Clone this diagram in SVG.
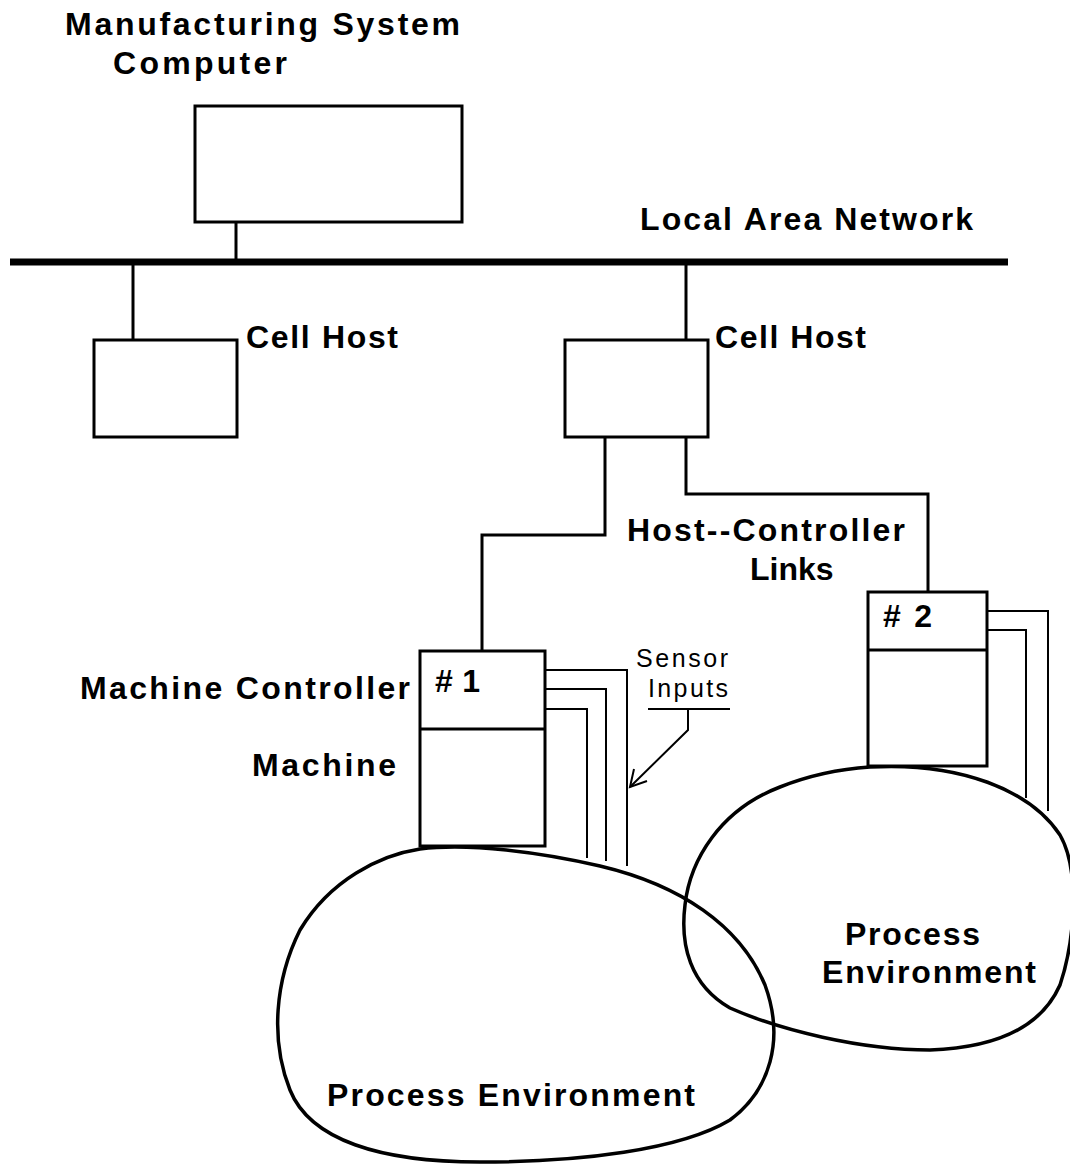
<svg xmlns="http://www.w3.org/2000/svg" width="1070" height="1166" viewBox="0 0 1070 1166">
<style>
.box{fill:#fff;stroke:#000;stroke-width:3}
.ln{fill:none;stroke:#000;stroke-width:3}
.sn{fill:none;stroke:#000;stroke-width:2}
.blob{fill:none;stroke:#000;stroke-width:3.5}
text{font-family:"Liberation Sans",Arial,sans-serif;font-weight:bold;font-size:32px;fill:#000}
.sm{font-weight:normal;font-size:25px}
</style>
<rect width="1070" height="1166" fill="#fff"/>
<g id="connectors">
<line x1="10" y1="262" x2="1008" y2="262" stroke="#000" stroke-width="7"/>
<line class="ln" x1="236" y1="222" x2="236" y2="262"/>
<line class="ln" x1="133" y1="262" x2="133" y2="340"/>
<line class="ln" x1="686" y1="262" x2="686" y2="340"/>
<polyline class="ln" points="605,437 605,535 482,535 482,652"/>
<polyline class="ln" points="686,437 686,494 928,494 928,592"/>
<polyline class="sn" points="545,670 627,670 627,866"/>
<polyline class="sn" points="545,689 606,689 606,861"/>
<polyline class="sn" points="545,709 587,709 587,858"/>
<polyline class="sn" points="987,611 1048,611 1048,811"/>
<polyline class="sn" points="987,630 1026,630 1026,798"/>
<line class="sn" x1="648" y1="709" x2="730" y2="709"/>
<polyline class="sn" points="688,709 688,730 630,787"/>
<polyline class="sn" points="634,769 630,787 647,781"/>
</g>
<g id="msc">
<rect class="box" x="195" y="106" width="267" height="116"/>
<text x="65" y="35" textLength="395">Manufacturing System</text>
<text x="113" y="74" textLength="174">Computer</text>
</g>
<text id="lan" x="640" y="230" textLength="333">Local Area Network</text>
<g id="cellhost1">
<rect class="box" x="94" y="340" width="143" height="97"/>
<text x="246" y="348" textLength="152">Cell Host</text>
</g>
<g id="cellhost2">
<rect class="box" x="565" y="340" width="143" height="97"/>
<text x="715" y="348" textLength="151">Cell Host</text>
</g>
<g id="hcl">
<text x="627" y="541" textLength="278">Host--Controller</text>
<text x="750" y="580">Links</text>
</g>
<g id="pe1">
<path class="blob" d="M420,849 C470,843 540,852 600,866 C680,885 740,925 765,985 C785,1040 770,1090 730,1120 C680,1150 580,1162 480,1162 C380,1162 310,1140 290,1090 C270,1040 275,980 300,930 C330,880 380,855 420,849 Z"/>
<text x="327" y="1106" textLength="368">Process Environment</text>
</g>
<g id="pe2">
<path class="blob" d="M870,767 C960,762 1030,790 1060,835 C1080,870 1075,940 1060,985 C1040,1030 990,1048 930,1050 C860,1050 780,1030 730,1008 C690,985 680,945 685,905 C690,860 720,810 780,787 C810,775 840,769 870,767 Z"/>
<text x="845" y="945" textLength="135">Process</text>
<text x="822" y="983" textLength="214">Environment</text>
</g>
<g id="mc1">
<rect class="box" x="420" y="651" width="125" height="195"/>
<line class="ln" x1="420" y1="729" x2="545" y2="729"/>
<text x="435" y="692" textLength="45"># 1</text>
<text x="80" y="699" textLength="330">Machine Controller</text>
<text x="252" y="776" textLength="144">Machine</text>
</g>
<g id="mc2">
<rect class="box" x="868" y="592" width="119" height="174"/>
<line class="ln" x1="868" y1="650" x2="987" y2="650"/>
<text x="883" y="627" textLength="49"># 2</text>
</g>
<g id="sensor">
<text class="sm" x="636" y="667" textLength="92">Sensor</text>
<text class="sm" x="648" y="697" textLength="80">Inputs</text>
</g>
</svg>
